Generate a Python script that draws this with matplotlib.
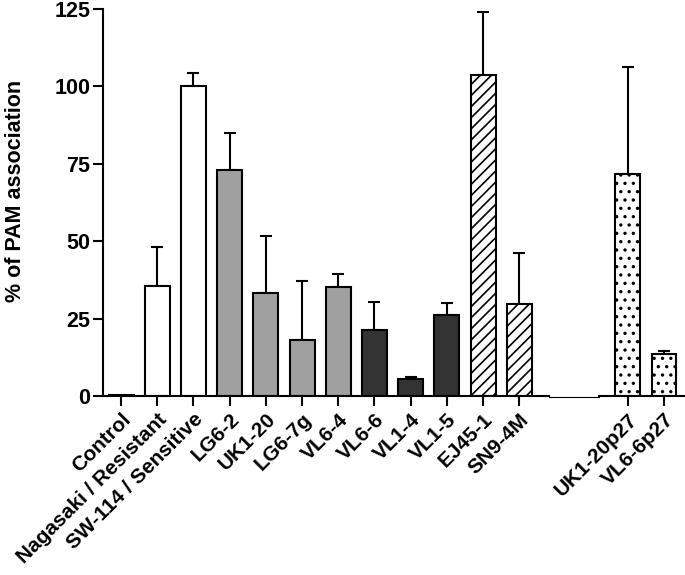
import numpy as np
import matplotlib.pyplot as plt

plt.rcParams['font.family'] = ['Liberation Sans', 'DejaVu Sans']
plt.rcParams['font.weight'] = 'bold'
plt.rcParams['hatch.linewidth'] = 1.2

# strains and values (% of PAM association, mean and upper error)
labels = ['Control', 'Nagasaki / Resistant', 'SW-114 / Sensitive', 'LG6-2', 'UK1-20',
          'LG6-7g', 'VL6-4', 'VL6-6', 'VL1-4', 'VL1-5', 'EJ45-1', 'SN9-4M',
          'UK1-20p27', 'VL6-6p27']
positions = [0, 1, 2, 3, 4, 5, 6, 7, 8, 9, 10, 11, 14, 15]
means = [0.3, 35.5, 100.0, 72.9, 33.4, 18.1, 35.1, 21.3, 5.6, 26.3, 103.8, 29.6, 71.6, 13.6]
errors = [0.0, 12.5, 4.2, 12.1, 18.3, 18.9, 4.2, 9.2, 0.5, 3.7, 20.3, 16.6, 34.8, 0.9]
colors = ['white', 'white', 'white', '#a0a0a0', '#a0a0a0', '#a0a0a0', '#a0a0a0',
          '#333333', '#333333', '#333333', 'white', 'white', 'white', 'white']
hatches = [None] * 10 + ['///', '///', '..', '..']

fig = plt.figure(figsize=(6.85, 5.75), dpi=100)
ax = fig.add_axes([103 / 685, 179 / 575, 582 / 685, 387 / 575])

for p, m, e, c, h in zip(positions, means, errors, colors, hatches):
    ax.bar(p, m, width=0.69, color=c, edgecolor='black', linewidth=1.5, hatch=h, zorder=2)
    if e > 0:
        ax.errorbar(p, m, yerr=[[0], [e]], fmt='none', ecolor='black', elinewidth=1.5,
                    capsize=4.5, capthick=1.5, zorder=1)

ax.set_xlim(-0.5, 15.58)
ax.set_ylim(0, 125)
ax.set_yticks([0, 25, 50, 75, 100, 125])
ax.set_xticks(positions)
ax.set_xticklabels(labels, rotation=45, ha='right', rotation_mode='anchor', fontsize=15)
ax.tick_params(axis='y', labelsize=15.5, length=7, width=1.5, pad=2)
ax.tick_params(axis='x', length=7, width=1.5, pad=3)
ax.set_ylabel('% of PAM association', fontsize=15.5, fontweight='bold')
ax.yaxis.set_label_coords(-0.132, 0.53)

for side in ['top', 'right', 'bottom']:
    ax.spines[side].set_visible(False)
ax.spines['left'].set_linewidth(1.5)

# broken x axis, Prism style
ax.plot([-0.5, 11.83], [0, 0], color='black', lw=1.5, clip_on=False, zorder=3)
ax.plot([11.83, 13.2], [-0.35, -0.35], color='black', lw=0.8, clip_on=False, zorder=3)
ax.plot([13.2, 15.58], [0, 0], color='black', lw=1.5, clip_on=False, zorder=3)

plt.savefig('out.png', dpi=100)
